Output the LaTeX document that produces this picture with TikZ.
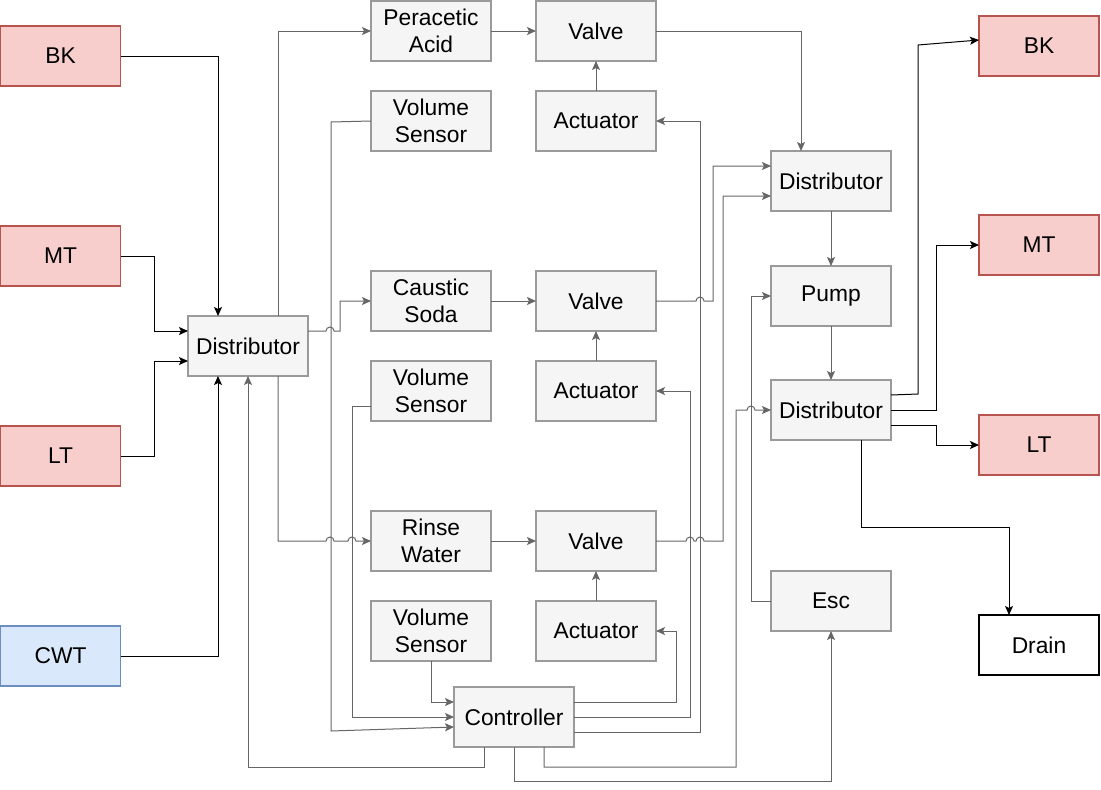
\documentclass[tikz,border=0pt]{standalone}
\usepackage{fontspec}
\setmainfont{Liberation Sans}
\usetikzlibrary{arrows.meta}

\definecolor{tankfill}{HTML}{F8CECC}
\definecolor{tankline}{HTML}{B85450}
\definecolor{waterfill}{HTML}{DAE8FC}
\definecolor{waterline}{HTML}{6C8EBF}
\definecolor{partfill}{HTML}{F5F5F5}
\definecolor{partline}{HTML}{9A9A9A}
\definecolor{flowline}{HTML}{666666}

\begin{document}
\begin{tikzpicture}[x=1pt, y=-1pt]
\tikzset{ >={Stealth[length=9pt, width=8pt, inset=2pt]}, inner sep=0pt, outer sep=0pt,
  box/.style={minimum width=120pt, minimum height=60pt, align=center, line width=1.4pt,
    font=\fontsize{22.8}{27}\selectfont},
  part/.style={box, draw=partline, fill=partfill},
  tank/.style={box, draw=tankline, fill=tankfill},
  cold/.style={box, draw=waterline, fill=waterfill},
  drain/.style={box, draw=black, fill=white},
  flow/.style={draw=flowline, line width=1pt},
  blk/.style={draw=black, line width=1pt},
}
\useasboundingbox (0,0) rectangle (1101,790);
%\draw [lightgray, dashed](0,0) grid[step=50] (1101,790);

% tanks, left
\node [tank] (BKin) at (60.5,56)  {BK};
\node [tank] (MTin) at (60.5,256) {MT};
\node [tank] (LTin) at (60.5,456) {LT};
\node [cold] (CWT)  at (60.5,656) {CWT};

\node [part] (DL) at (248,346) {Distributor};

% chemicals and sensors
\node [part] (PA)  at (431,31)  {Peracetic\\Acid};
\node [part] (VS1) at (431,121) {Volume\\Sensor};
\node [part] (CS)  at (431,301) {Caustic\\Soda};
\node [part] (VS2) at (431,391) {Volume\\Sensor};
\node [part] (RW)  at (431,541) {Rinse\\Water};
\node [part] (VS3) at (431,631) {Volume\\Sensor};

\node [part] (V1) at (596,31)  {Valve};
\node [part] (A1) at (596,121) {Actuator};
\node [part] (V2) at (596,301) {Valve};
\node [part] (A2) at (596,391) {Actuator};
\node [part] (V3) at (596,541) {Valve};
\node [part] (A3) at (596,631) {Actuator};

\node [part] (C) at (514,717) {Controller};

% right side
\node [part] (DT) at (831,181) {Distributor};
\node [part] (P)  at (831,296) {Pump};
\node [part] (DB) at (831,410) {Distributor};
\node [part] (E)  at (831,601) {Esc};

\node [tank]  (BKout) at (1039,46)  {BK};
\node [tank]  (MTout) at (1039,245) {MT};
\node [tank]  (LTout) at (1039,445) {LT};
\node [drain] (DR)    at (1039,645) {Drain};

% tanks into distributor
\draw [blk, ->] (BKin.east) -| ([xshift=-30]DL.north);
\draw [blk, ->] (MTin.east) -- (154,256) |- ([yshift=15]DL.west);
\draw [blk, ->] (LTin.east) -- (154,456) |- ([yshift=-15]DL.west);
\draw [blk, ->] (CWT.east)  -| ([xshift=-30]DL.south);

% distributor to chemicals
\draw [flow, ->] ([xshift=30]DL.north) |- (PA.west);
\draw [flow, ->] ([yshift=15]DL.east) -- (326,331) arc[start angle=180, end angle=360, radius=4]
  -- (340,331) |- (CS.west);
\draw [flow, ->] ([xshift=30]DL.south) |- (326,541) arc[start angle=180, end angle=360, radius=4]
  -- (348,541) arc[start angle=180, end angle=360, radius=4] -- (RW.west);

\draw [flow, ->] (PA) -- (V1);
\draw [flow, ->] (CS) -- (V2);
\draw [flow, ->] (RW) -- (V3);
\draw [flow, ->] (A1) -- (V1);
\draw [flow, ->] (A2) -- (V2);
\draw [flow, ->] (A3) -- (V3);

% valves to distributor
\draw [flow, ->] (V1.east) -| ([xshift=-30]DT.north);
\draw [flow, ->] (V2.east) -- (696,301) arc[start angle=180, end angle=360, radius=4]
  -- (713,301) |- ([yshift=15]DT.west);
\draw [flow, ->] (V3.east) -- (686,541) arc[start angle=180, end angle=360, radius=4]
  -- (696,541) arc[start angle=180, end angle=360, radius=4] -- (723,541) |- ([yshift=-15]DT.west);

\draw [flow, ->] (DT) -- (P);
\draw [flow, ->] (P)  -- (DB);
\draw [flow, ->] (E.west) -- (751,601) |- (P.west);

% sensors into controller
\draw [flow, ->] (VS1.west) -- (331,122) -- (331,731) -- ([yshift=-10]C.west);
\draw [flow, ->] ([yshift=-15]VS2.west) -- (352,406) |- (C.west);
\draw [flow, ->] (VS3.south) |- ([yshift=15]C.west);

% controller outputs
\draw [flow, ->] ([yshift=15]C.east)  -| (676,631) -- (A3.east);
\draw [flow, ->] (C.east)             -| (690,391) -- (A2.east);
\draw [flow, ->] ([yshift=-15]C.east) -| (700,121) -- (A1.east);
\draw [flow, ->] ([xshift=-30]C.south) |- (248,767) -- (DL.south);
\draw [flow, ->] (C.south) |- (831,781) -- (E.south);
\draw [flow, ->] ([xshift=30]C.south) |- (736,767) -- (736,410)
  -- (747,410) arc[start angle=180, end angle=360, radius=4] -- (DB.west);

% distributor to tanks
\draw [blk, ->] ([yshift=15]DB.east) -- (918,394) -- (918,45) -- ([yshift=6]BKout.west);
\draw [blk, ->] (DB.east) -| (936,245) -- (MTout.west);
\draw [blk, ->] ([yshift=-15]DB.east) -| (936,445) -- (LTout.west);
\draw [blk, ->] ([xshift=30]DB.south) |- (1009,527) -- ([xshift=-30]DR.north);

\end{tikzpicture}
\end{document}
